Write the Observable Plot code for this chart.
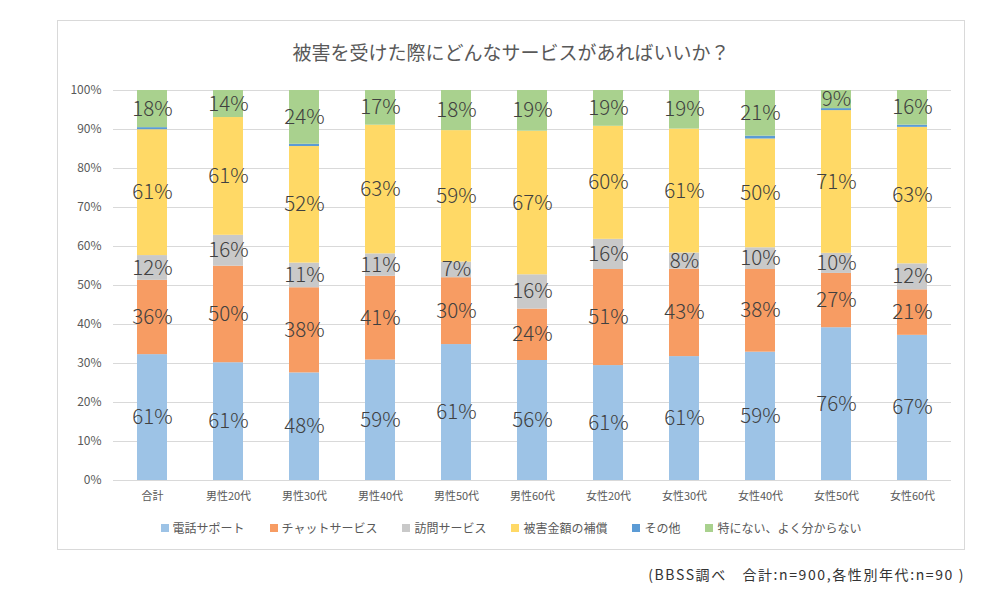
<!DOCTYPE html>
<html>
<head>
<meta charset="utf-8">
<script src="https://cdn.jsdelivr.net/npm/d3@7"></script>
<script src="https://cdn.jsdelivr.net/npm/@observablehq/plot@0.6"></script>
<style>
  html, body { margin: 0; padding: 0; background: #fff; width: 1000px; height: 600px; overflow: hidden; }
  body { font-family: "Noto Sans CJK JP", "Noto Sans", sans-serif; position: relative; }
  #frame { position: absolute; left: 57px; top: 20px; width: 906px; height: 528px; border: 1px solid #D9D9D9; }
  #title { position: absolute; left: 0; width: 906px; top: 17px; text-align: center; font-size: 19px; color: #595959; }
  #chart { position: absolute; left: 0; top: 0; }
  #legend { position: absolute; left: 0; width: 906px; top: 498px; display: flex; justify-content: center; gap: 25px; font-size: 12px; color: #595959; }
  #legend span.item { display: flex; align-items: center; }
  #legend span.sw { display: inline-block; width: 8px; height: 8px; margin-right: 4px; }
  #caption { position: absolute; right: 35px; top: 564px; font-size: 14px; color: #333; letter-spacing: 1.6px; }
</style>
</head>
<body>
<div id="frame">
  <div id="title">被害を受けた際にどんなサービスがあればいいか？</div>
  <div id="chart"></div>
  <div id="legend"></div>
</div>
<div id="caption">(BBSS調べ　合計:n=900,各性別年代:n=90 )</div>
<script>
const categories = ["合計","男性20代","男性30代","男性40代","男性50代","男性60代","女性20代","女性30代","女性40代","女性50代","女性60代"];
const seriesNames = ["電話サポート","チャットサービス","訪問サービス","被害金額の補償","その他","特にない、よく分からない"];
const colors = ["#9DC3E6","#F79C63","#C9C9C9","#FFD966","#5B9BD5","#A9D18E"];
const phone   = [61,61,48,59,61,56,61,61,59,76,67];
const chat    = [36,50,38,41,30,24,51,43,38,27,21];
const visit   = [12,16,11,11,7,16,16,8,10,10,12];
const comp    = [61,61,52,63,59,67,60,61,50,71,63];
const other   = [1,0,1,0,0,0,0,0,1.3,1,1];
const none    = [18,14,24,17,18,19,19,19,21,9,16];
const yTicks  = [0,0.1,0.2,0.3,0.4,0.5,0.6,0.7,0.8,0.9,1];

const seriesValues = [phone, chat, visit, comp, other, none];
const rows = [];
seriesValues.forEach((vals, si) => {
  vals.forEach((v, ci) => rows.push({cat: categories[ci], series: seriesNames[si], value: v, label: si === 4 ? "" : (v > 0 ? Math.round(v) + "%" : "")}));
});

const stackOpts = {x: "cat", y: "value", z: "series", order: seriesNames, offset: "normalize"};

const chart = Plot.plot({
  width: 906,
  height: 528,
  marginLeft: 55,
  marginRight: 13,
  marginTop: 69,
  marginBottom: 69,
  style: {fontFamily: "'Noto Sans CJK JP', 'Noto Sans', sans-serif", background: "transparent"},
  x: {domain: categories, paddingInner: 0.6, paddingOuter: 0.3, label: null, tickSize: 0, tickPadding: 10},
  y: {domain: [0, 1], ticks: yTicks, tickFormat: d => Math.round(d * 100) + "%", label: null, tickSize: 0, tickPadding: 12},
  color: {domain: seriesNames, range: colors},
  marks: [
    Plot.ruleY(yTicks, {stroke: "#D9D9D9", strokeWidth: 1}),
    Plot.barY(rows, Plot.stackY({...stackOpts, fill: "series"})),
    Plot.text(rows, Plot.stackY({...stackOpts, text: "label", fill: "#404040", fontSize: 20.5, fontWeight: 300})),
    Plot.axisX({tickSize: 0, tickPadding: 12, fontSize: 11, fill: "#595959", label: null}),
    Plot.axisY({ticks: yTicks, tickFormat: d => Math.round(d * 100) + "%", tickSize: 0, tickPadding: 12, fontSize: 12, fill: "#595959", label: null})
  ]
});
document.getElementById("chart").appendChild(chart);

const legend = document.getElementById("legend");
seriesNames.forEach((name, i) => {
  const item = document.createElement("span");
  item.className = "item";
  const sw = document.createElement("span");
  sw.className = "sw";
  sw.style.background = colors[i];
  item.appendChild(sw);
  item.appendChild(document.createTextNode(name));
  legend.appendChild(item);
});
</script>
</body>
</html>
